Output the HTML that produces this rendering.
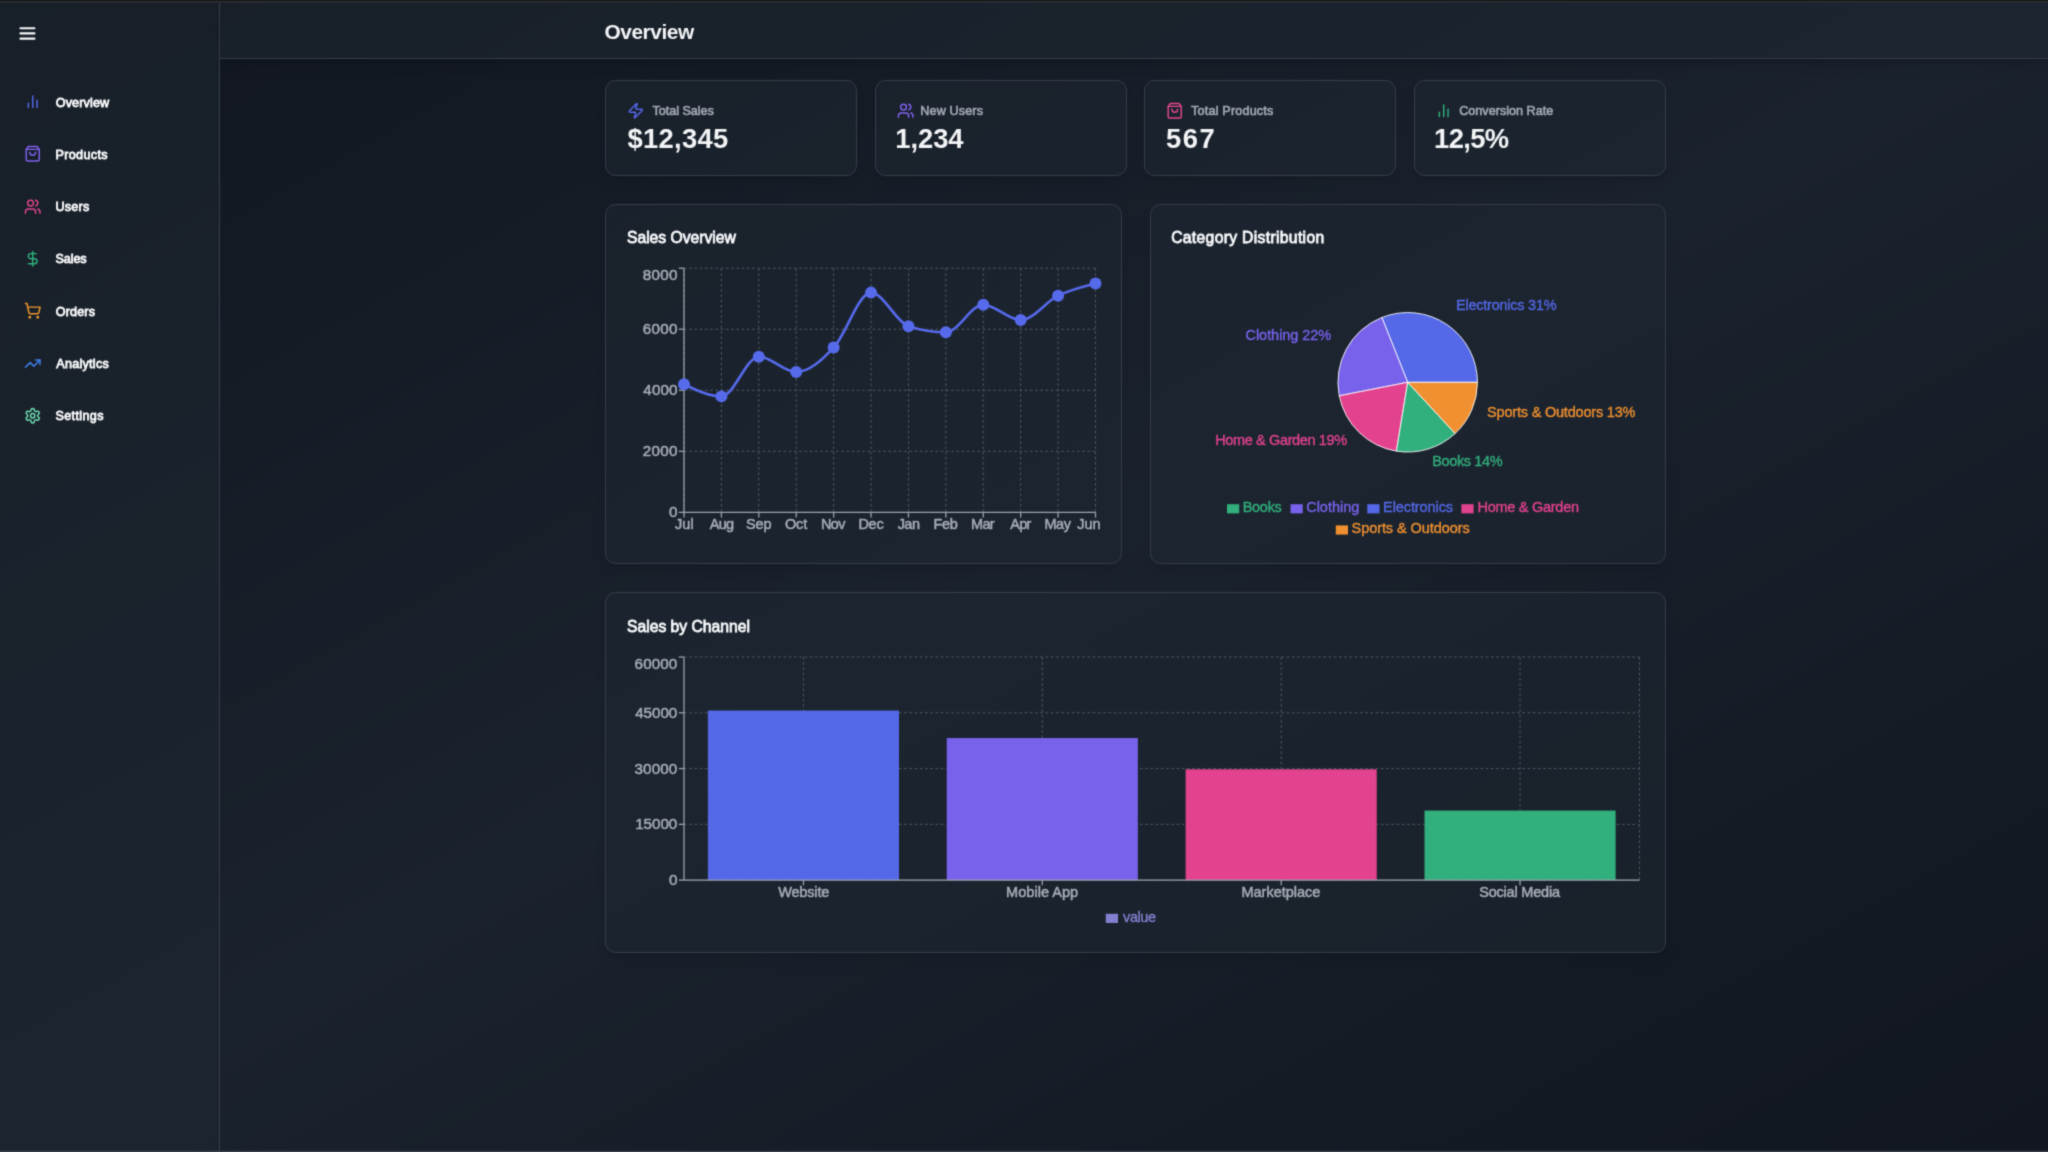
<!DOCTYPE html>
<html lang="en"><head><meta charset="utf-8"><title>Overview</title>
<style>
*{box-sizing:border-box;margin:0;padding:0}
html,body{width:2048px;height:1152px;overflow:hidden;background:#11161f;font-family:"Liberation Sans", sans-serif;}
.bg{position:absolute;left:-3.5px;top:3px;width:2051.5px;height:1149px;background:linear-gradient(to bottom right, #11161f, #1a222d 50%, #11161f);}
.topa{position:absolute;left:0;top:0;width:2048px;height:3px;background:linear-gradient(to bottom,#161616 0,#161616 1.3px,#282b30 1.3px,#282b30 3px);}
.bota{position:absolute;left:0;top:1150px;width:2048px;height:2px;background:linear-gradient(to bottom,rgba(58,66,77,.25) 0,rgba(58,66,77,.25) 1px,#3a424d 1px,#3a424d 2px);}
.sidebar{position:absolute;left:0;top:3px;width:220px;height:1149px;background:rgba(30,40,49,.5);border-right:1px solid #363d49;}
.header{position:absolute;left:220px;top:3px;width:1828px;height:56px;background:rgba(30,39,49,.5);border-bottom:1px solid #363d49;box-shadow:0 8.7px 13px -2.6px rgba(0,0,0,.12),0 3.5px 5.2px -3.5px rgba(0,0,0,.12);}
.page{position:absolute;left:0;top:0;width:2048px;height:1152px;overflow:hidden;filter:url(#soft);}
.main{position:absolute;left:0;top:0;width:2048px;height:1152px;}
.card{position:absolute;background:rgba(30,39,49,.5);border:1px solid #363d49;border-radius:10.5px;box-shadow:0 8.7px 13px -2.6px rgba(0,0,0,.08),0 3.5px 5.2px -3.5px rgba(0,0,0,.08);}
.t{position:absolute;white-space:pre;line-height:0;height:0;font-kerning:normal;}
.ic{position:absolute;overflow:visible}
.chart{position:absolute;overflow:visible}
.chart text{font-family:"Liberation Sans", sans-serif;white-space:pre}
.nav{display:block}
</style></head>
<body>
<svg width="0" height="0" style="position:absolute" aria-hidden="true"><filter id="soft" x="0" y="0" width="100%" height="100%" color-interpolation-filters="sRGB"><feConvolveMatrix order="3" kernelMatrix="1 4 1 4 16 4 1 4 1" edgeMode="duplicate" preserveAlpha="true"/></filter></svg>
<div class="page">
<div class="bg"></div>
<aside class="sidebar">
<svg class="ic" style="left:17.45px;top:20.45px" width="20.9" height="20.9" viewBox="0 0 24 24" fill="none" stroke="#f6f7f9" stroke-width="2.5" stroke-linecap="round" stroke-linejoin="round"><line x1="4" x2="20" y1="12" y2="12"/><line x1="4" x2="20" y1="6" y2="6"/><line x1="4" x2="20" y1="18" y2="18"/></svg>
<a class="nav"><svg class="ic" style="left:24.38px;top:90.18px" width="17.44" height="17.44" viewBox="0 0 24 24" fill="none" stroke="#5468e8" stroke-width="2" stroke-linecap="round" stroke-linejoin="round"><line x1="18" x2="18" y1="20" y2="10"/><line x1="12" x2="12" y1="20" y2="4"/><line x1="6" x2="6" y1="20" y2="14"/></svg>
<span class="t" style="left:55.73px;top:99.55px;font-size:12.6px;font-weight:400;color:#fafbfc;letter-spacing:0.138px;-webkit-text-stroke:0.8px #fafbfc;">Overview</span></a>
<a class="nav"><svg class="ic" style="left:24.38px;top:142.48px" width="17.44" height="17.44" viewBox="0 0 24 24" fill="none" stroke="#7f62ee" stroke-width="2" stroke-linecap="round" stroke-linejoin="round"><path d="M6 2 3 6v14a2 2 0 0 0 2 2h14a2 2 0 0 0 2-2V6l-3-4Z"/><path d="M3 6h18"/><path d="M16 10a4 4 0 0 1-8 0"/></svg>
<span class="t" style="left:55.41px;top:151.85px;font-size:12.6px;font-weight:400;color:#fafbfc;letter-spacing:0.347px;-webkit-text-stroke:0.8px #fafbfc;">Products</span></a>
<a class="nav"><svg class="ic" style="left:24.38px;top:194.78px" width="17.44" height="17.44" viewBox="0 0 24 24" fill="none" stroke="#e2468f" stroke-width="2" stroke-linecap="round" stroke-linejoin="round"><path d="M16 21v-2a4 4 0 0 0-4-4H6a4 4 0 0 0-4 4v2"/><circle cx="9" cy="7" r="4"/><path d="M22 21v-2a4 4 0 0 0-3-3.87"/><path d="M16 3.13a4 4 0 0 1 0 7.75"/></svg>
<span class="t" style="left:55.41px;top:204.15px;font-size:12.6px;font-weight:400;color:#fafbfc;letter-spacing:0.233px;-webkit-text-stroke:0.8px #fafbfc;">Users</span></a>
<a class="nav"><svg class="ic" style="left:24.38px;top:247.08px" width="17.44" height="17.44" viewBox="0 0 24 24" fill="none" stroke="#2fb07c" stroke-width="2" stroke-linecap="round" stroke-linejoin="round"><line x1="12" x2="12" y1="2" y2="22"/><path d="M17 5H9.5a3.5 3.5 0 0 0 0 7h5a3.5 3.5 0 0 1 0 7H6"/></svg>
<span class="t" style="left:55.49px;top:256.45px;font-size:12.6px;font-weight:400;color:#fafbfc;letter-spacing:-0.098px;-webkit-text-stroke:0.8px #fafbfc;">Sales</span></a>
<a class="nav"><svg class="ic" style="left:24.38px;top:299.38px" width="17.44" height="17.44" viewBox="0 0 24 24" fill="none" stroke="#f0962a" stroke-width="2" stroke-linecap="round" stroke-linejoin="round"><circle cx="8" cy="21" r="1"/><circle cx="19" cy="21" r="1"/><path d="M2.05 2.05h2l2.66 12.42a2 2 0 0 0 2 1.58h9.78a2 2 0 0 0 1.95-1.57l1.65-7.43H5.12"/></svg>
<span class="t" style="left:55.73px;top:308.75px;font-size:12.6px;font-weight:400;color:#fafbfc;letter-spacing:0.154px;-webkit-text-stroke:0.8px #fafbfc;">Orders</span></a>
<a class="nav"><svg class="ic" style="left:24.38px;top:351.68px" width="17.44" height="17.44" viewBox="0 0 24 24" fill="none" stroke="#3f82ee" stroke-width="2" stroke-linecap="round" stroke-linejoin="round"><polyline points="22 7 13.5 15.5 8.5 10.5 2 17"/><polyline points="16 7 22 7 22 13"/></svg>
<span class="t" style="left:56.25px;top:361.05px;font-size:12.6px;font-weight:400;color:#fafbfc;letter-spacing:0.264px;-webkit-text-stroke:0.8px #fafbfc;">Analytics</span></a>
<a class="nav"><svg class="ic" style="left:24.38px;top:403.98px" width="17.44" height="17.44" viewBox="0 0 24 24" fill="none" stroke="#6fe0b4" stroke-width="2" stroke-linecap="round" stroke-linejoin="round"><path d="M12.22 2h-.44a2 2 0 0 0-2 2v.18a2 2 0 0 1-1 1.73l-.43.25a2 2 0 0 1-2 0l-.15-.08a2 2 0 0 0-2.73.73l-.22.38a2 2 0 0 0 .73 2.73l.15.1a2 2 0 0 1 1 1.72v.51a2 2 0 0 1-1 1.74l-.15.09a2 2 0 0 0-.73 2.73l.22.38a2 2 0 0 0 2.73.73l.15-.08a2 2 0 0 1 2 0l.43.25a2 2 0 0 1 1 1.73V20a2 2 0 0 0 2 2h.44a2 2 0 0 0 2-2v-.18a2 2 0 0 1 1-1.73l.43-.25a2 2 0 0 1 2 0l.15.08a2 2 0 0 0 2.73-.73l.22-.39a2 2 0 0 0-.73-2.73l-.15-.08a2 2 0 0 1-1-1.74v-.5a2 2 0 0 1 1-1.74l.15-.09a2 2 0 0 0 .73-2.73l-.22-.38a2 2 0 0 0-2.73-.73l-.15.08a2 2 0 0 1-2 0l-.43-.25a2 2 0 0 1-1-1.73V4a2 2 0 0 0-2-2z"/><circle cx="12" cy="12" r="3"/></svg>
<span class="t" style="left:55.49px;top:413.35px;font-size:12.6px;font-weight:400;color:#fafbfc;letter-spacing:0.358px;-webkit-text-stroke:0.8px #fafbfc;">Settings</span></a>
</aside>
<header class="header">
<span class="t" style="left:384.52px;top:29.00px;font-size:20.9px;font-weight:700;color:#f3f4f6;letter-spacing:-0.469px;">Overview</span>
</header>
<main class="main">
<section class="card stat" style="left:605px;top:80px;width:252px;height:96px"></section>
<svg class="ic" style="left:627.30px;top:101.73px" width="17.44" height="17.44" viewBox="0 0 24 24" fill="none" stroke="#5468e8" stroke-width="2" stroke-linecap="round" stroke-linejoin="round"><path d="M4 14a1 1 0 0 1-.78-1.63l9.9-10.2a.5.5 0 0 1 .86.46l-1.92 6.02A1 1 0 0 0 13 10h7a1 1 0 0 1 .78 1.63l-9.9 10.2a.5.5 0 0 1-.86-.46l1.92-6.02A1 1 0 0 0 11 14z"/></svg>
<span class="t" style="left:652.51px;top:110.80px;font-size:12.6px;font-weight:400;color:#a2a9b4;letter-spacing:-0.021px;-webkit-text-stroke:0.6px #a2a9b4;">Total Sales</span>
<span class="t" style="left:627.60px;top:138.70px;font-size:27.4px;font-weight:700;color:#f3f4f6;letter-spacing:0.267px;">$12,345</span>
<section class="card stat" style="left:875px;top:80px;width:252px;height:96px"></section>
<svg class="ic" style="left:896.65px;top:101.73px" width="17.44" height="17.44" viewBox="0 0 24 24" fill="none" stroke="#7f62ee" stroke-width="2" stroke-linecap="round" stroke-linejoin="round"><path d="M16 21v-2a4 4 0 0 0-4-4H6a4 4 0 0 0-4 4v2"/><circle cx="9" cy="7" r="4"/><path d="M22 21v-2a4 4 0 0 0-3-3.87"/><path d="M16 3.13a4 4 0 0 1 0 7.75"/></svg>
<span class="t" style="left:920.31px;top:110.80px;font-size:12.6px;font-weight:400;color:#a2a9b4;letter-spacing:0.136px;-webkit-text-stroke:0.6px #a2a9b4;">New Users</span>
<span class="t" style="left:895.34px;top:138.70px;font-size:27.4px;font-weight:700;color:#f3f4f6;letter-spacing:-0.087px;">1,234</span>
<section class="card stat" style="left:1144px;top:80px;width:252px;height:96px"></section>
<svg class="ic" style="left:1166.00px;top:101.73px" width="17.44" height="17.44" viewBox="0 0 24 24" fill="none" stroke="#e2468f" stroke-width="2" stroke-linecap="round" stroke-linejoin="round"><path d="M6 2 3 6v14a2 2 0 0 0 2 2h14a2 2 0 0 0 2-2V6l-3-4Z"/><path d="M3 6h18"/><path d="M16 10a4 4 0 0 1-8 0"/></svg>
<span class="t" style="left:1191.11px;top:110.80px;font-size:12.6px;font-weight:400;color:#a2a9b4;letter-spacing:0.187px;-webkit-text-stroke:0.6px #a2a9b4;">Total Products</span>
<span class="t" style="left:1165.95px;top:138.70px;font-size:27.4px;font-weight:700;color:#f3f4f6;letter-spacing:1.545px;">567</span>
<section class="card stat" style="left:1414px;top:80px;width:252px;height:96px"></section>
<svg class="ic" style="left:1435.35px;top:101.73px" width="17.44" height="17.44" viewBox="0 0 24 24" fill="none" stroke="#2fb07c" stroke-width="2" stroke-linecap="round" stroke-linejoin="round"><line x1="18" x2="18" y1="20" y2="10"/><line x1="12" x2="12" y1="20" y2="4"/><line x1="6" x2="6" y1="20" y2="14"/></svg>
<span class="t" style="left:1459.18px;top:110.80px;font-size:12.6px;font-weight:400;color:#a2a9b4;letter-spacing:0.019px;-webkit-text-stroke:0.6px #a2a9b4;">Conversion Rate</span>
<span class="t" style="left:1434.04px;top:138.70px;font-size:27.4px;font-weight:700;color:#f3f4f6;letter-spacing:-0.639px;">12,5%</span>
<section class="card" style="left:605px;top:204px;width:517px;height:360px"></section>
<section class="card" style="left:1150px;top:204px;width:516px;height:360px"></section>
<section class="card" style="left:605px;top:592px;width:1061px;height:361px"></section>
<span class="t" style="left:626.99px;top:237.60px;font-size:15.7px;font-weight:400;color:#f8f9fb;letter-spacing:-0.014px;-webkit-text-stroke:0.8px #f8f9fb;">Sales Overview</span>
<span class="t" style="left:1171.14px;top:237.60px;font-size:15.7px;font-weight:400;color:#f8f9fb;letter-spacing:0.329px;-webkit-text-stroke:0.8px #f8f9fb;">Category Distribution</span>
<span class="t" style="left:626.99px;top:627.10px;font-size:15.7px;font-weight:400;color:#f8f9fb;-webkit-text-stroke:0.8px #f8f9fb;">Sales by Channel</span>
<svg class="chart" style="left:605px;top:204px" width="517" height="360" viewBox="605 204 517 360"><g stroke="#4f5763" stroke-width="1.0" stroke-dasharray="2.62 2.62" fill="none"><line x1="684.0" y1="512.35" x2="1095.5" y2="512.35"/><line x1="684.0" y1="451.31" x2="1095.5" y2="451.31"/><line x1="684.0" y1="390.27" x2="1095.5" y2="390.27"/><line x1="684.0" y1="329.24" x2="1095.5" y2="329.24"/><line x1="684.0" y1="268.20" x2="1095.5" y2="268.20"/><line x1="684.00" y1="268.2" x2="684.00" y2="512.35"/><line x1="721.41" y1="268.2" x2="721.41" y2="512.35"/><line x1="758.82" y1="268.2" x2="758.82" y2="512.35"/><line x1="796.23" y1="268.2" x2="796.23" y2="512.35"/><line x1="833.64" y1="268.2" x2="833.64" y2="512.35"/><line x1="871.05" y1="268.2" x2="871.05" y2="512.35"/><line x1="908.45" y1="268.2" x2="908.45" y2="512.35"/><line x1="945.86" y1="268.2" x2="945.86" y2="512.35"/><line x1="983.27" y1="268.2" x2="983.27" y2="512.35"/><line x1="1020.68" y1="268.2" x2="1020.68" y2="512.35"/><line x1="1058.09" y1="268.2" x2="1058.09" y2="512.35"/><line x1="1095.50" y1="268.2" x2="1095.50" y2="512.35"/></g><g stroke="#9aa1ab" stroke-width="1.3" fill="none"><line x1="684.0" y1="512.35" x2="1095.5" y2="512.35"/><line x1="684.0" y1="268.2" x2="684.0" y2="512.35"/><line x1="684.00" y1="512.35" x2="684.00" y2="517.55"/><line x1="721.41" y1="512.35" x2="721.41" y2="517.55"/><line x1="758.82" y1="512.35" x2="758.82" y2="517.55"/><line x1="796.23" y1="512.35" x2="796.23" y2="517.55"/><line x1="833.64" y1="512.35" x2="833.64" y2="517.55"/><line x1="871.05" y1="512.35" x2="871.05" y2="517.55"/><line x1="908.45" y1="512.35" x2="908.45" y2="517.55"/><line x1="945.86" y1="512.35" x2="945.86" y2="517.55"/><line x1="983.27" y1="512.35" x2="983.27" y2="517.55"/><line x1="1020.68" y1="512.35" x2="1020.68" y2="517.55"/><line x1="1058.09" y1="512.35" x2="1058.09" y2="517.55"/><line x1="1095.50" y1="512.35" x2="1095.50" y2="517.55"/><line x1="678.80" y1="512.35" x2="684.0" y2="512.35"/><line x1="678.80" y1="451.31" x2="684.0" y2="451.31"/><line x1="678.80" y1="390.27" x2="684.0" y2="390.27"/><line x1="678.80" y1="329.24" x2="684.0" y2="329.24"/><line x1="678.80" y1="268.20" x2="684.0" y2="268.20"/></g><text x="668.89" y="517.35" font-size="15.2" fill="#a6adb7" stroke="#a6adb7" stroke-width="0.5" stroke-linejoin="round">0</text><text x="642.80" y="456.31" font-size="15.2" fill="#a6adb7" letter-spacing="0.306" stroke="#a6adb7" stroke-width="0.5" stroke-linejoin="round">2000</text><text x="643.36" y="395.27" font-size="15.2" fill="#a6adb7" letter-spacing="0.119" stroke="#a6adb7" stroke-width="0.5" stroke-linejoin="round">4000</text><text x="642.78" y="334.24" font-size="15.2" fill="#a6adb7" letter-spacing="0.313" stroke="#a6adb7" stroke-width="0.5" stroke-linejoin="round">6000</text><text x="642.84" y="280.30" font-size="15.2" fill="#a6adb7" letter-spacing="0.293" stroke="#a6adb7" stroke-width="0.5" stroke-linejoin="round">8000</text><text x="675.05" y="529.00" font-size="14.5" fill="#a6adb7" letter-spacing="0.041" stroke="#a6adb7" stroke-width="0.5" stroke-linejoin="round">Jul</text><text x="709.72" y="529.00" font-size="14.5" fill="#a6adb7" letter-spacing="-0.685" stroke="#a6adb7" stroke-width="0.5" stroke-linejoin="round">Aug</text><text x="746.11" y="529.00" font-size="14.5" fill="#a6adb7" letter-spacing="-0.209" stroke="#a6adb7" stroke-width="0.5" stroke-linejoin="round">Sep</text><text x="784.90" y="529.00" font-size="14.5" fill="#a6adb7" letter-spacing="-0.115" stroke="#a6adb7" stroke-width="0.5" stroke-linejoin="round">Oct</text><text x="821.08" y="529.00" font-size="14.5" fill="#a6adb7" letter-spacing="-0.675" stroke="#a6adb7" stroke-width="0.5" stroke-linejoin="round">Nov</text><text x="858.39" y="529.00" font-size="14.5" fill="#a6adb7" letter-spacing="-0.250" stroke="#a6adb7" stroke-width="0.5" stroke-linejoin="round">Dec</text><text x="897.65" y="529.00" font-size="14.5" fill="#a6adb7" letter-spacing="-0.526" stroke="#a6adb7" stroke-width="0.5" stroke-linejoin="round">Jan</text><text x="933.61" y="529.00" font-size="14.5" fill="#a6adb7" letter-spacing="-0.408" stroke="#a6adb7" stroke-width="0.5" stroke-linejoin="round">Feb</text><text x="971.12" y="529.00" font-size="14.5" fill="#a6adb7" letter-spacing="-0.693" stroke="#a6adb7" stroke-width="0.5" stroke-linejoin="round">Mar</text><text x="1010.24" y="529.00" font-size="14.5" fill="#a6adb7" letter-spacing="-0.681" stroke="#a6adb7" stroke-width="0.5" stroke-linejoin="round">Apr</text><text x="1044.53" y="529.00" font-size="14.5" fill="#a6adb7" letter-spacing="-0.483" stroke="#a6adb7" stroke-width="0.5" stroke-linejoin="round">May</text><text x="1077.30" y="529.00" font-size="14.5" fill="#a6adb7" letter-spacing="-0.076" stroke="#a6adb7" stroke-width="0.5" stroke-linejoin="round">Jun</text><path d="M684.00,384.17C696.47,390.27,708.94,396.38,721.41,396.38C733.88,396.38,746.35,356.70,758.82,356.70C771.29,356.70,783.76,371.96,796.23,371.96C808.70,371.96,821.17,360.77,833.64,347.55C846.11,334.32,858.58,292.62,871.05,292.62C883.52,292.62,895.98,322.12,908.45,326.19C920.92,330.25,933.39,332.29,945.86,332.29C958.33,332.29,970.80,304.82,983.27,304.82C995.74,304.82,1008.21,320.08,1020.68,320.08C1033.15,320.08,1045.62,301.77,1058.09,295.67C1070.56,289.56,1083.03,286.51,1095.50,283.46" fill="none" stroke="#566aec" stroke-width="2.62"/><circle cx="684.00" cy="384.17" r="6.0" fill="#566aec"/><circle cx="721.41" cy="396.38" r="6.0" fill="#566aec"/><circle cx="758.82" cy="356.70" r="6.0" fill="#566aec"/><circle cx="796.23" cy="371.96" r="6.0" fill="#566aec"/><circle cx="833.64" cy="347.55" r="6.0" fill="#566aec"/><circle cx="871.05" cy="292.62" r="6.0" fill="#566aec"/><circle cx="908.45" cy="326.19" r="6.0" fill="#566aec"/><circle cx="945.86" cy="332.29" r="6.0" fill="#566aec"/><circle cx="983.27" cy="304.82" r="6.0" fill="#566aec"/><circle cx="1020.68" cy="320.08" r="6.0" fill="#566aec"/><circle cx="1058.09" cy="295.67" r="6.0" fill="#566aec"/><circle cx="1095.50" cy="283.46" r="6.0" fill="#566aec"/></svg>
<svg class="chart" style="left:1150px;top:204px" width="516" height="360" viewBox="1150 204 516 360"><path d="M1407.7,382.3L1477.46,382.30A69.76,69.76,0,0,0,1381.88,317.49Z" fill="#5468e8" stroke="#ffffff" stroke-width="0.87" stroke-linejoin="round"/><path d="M1407.7,382.3L1381.88,317.49A69.76,69.76,0,0,0,1339.26,395.82Z" fill="#7862eb" stroke="#ffffff" stroke-width="0.87" stroke-linejoin="round"/><path d="M1407.7,382.3L1339.26,395.82A69.76,69.76,0,0,0,1396.41,451.14Z" fill="#e2428e" stroke="#ffffff" stroke-width="0.87" stroke-linejoin="round"/><path d="M1407.7,382.3L1396.41,451.14A69.76,69.76,0,0,0,1455.12,433.46Z" fill="#31af7c" stroke="#ffffff" stroke-width="0.87" stroke-linejoin="round"/><path d="M1407.7,382.3L1455.12,433.46A69.76,69.76,0,0,0,1477.46,382.30Z" fill="#f09030" stroke="#ffffff" stroke-width="0.87" stroke-linejoin="round"/><text x="1456.03" y="309.93" font-size="14.5" fill="#5468e8" letter-spacing="-0.239" stroke="#5468e8" stroke-width="0.35" stroke-linejoin="round">Electronics 31%</text><text x="1245.52" y="340.42" font-size="14.5" fill="#7862eb" letter-spacing="-0.048" stroke="#7862eb" stroke-width="0.35" stroke-linejoin="round">Clothing 22%</text><text x="1215.29" y="444.75" font-size="14.5" fill="#e2428e" letter-spacing="-0.378" stroke="#e2428e" stroke-width="0.35" stroke-linejoin="round">Home &amp; Garden 19%</text><text x="1432.24" y="465.60" font-size="14.5" fill="#31af7c" letter-spacing="-0.375" stroke="#31af7c" stroke-width="0.35" stroke-linejoin="round">Books 14%</text><text x="1487.10" y="416.99" font-size="14.5" fill="#f09030" letter-spacing="-0.200" stroke="#f09030" stroke-width="0.35" stroke-linejoin="round">Sports &amp; Outdoors 13%</text><rect x="1227.00" y="504.20" width="12.2" height="9.16" fill="#31af7c"/><text x="1242.69" y="512.00" font-size="14.5" fill="#31af7c" letter-spacing="-0.281" stroke="#31af7c" stroke-width="0.35" stroke-linejoin="round">Books</text><rect x="1290.50" y="504.20" width="12.2" height="9.16" fill="#7862eb"/><text x="1306.17" y="512.00" font-size="14.5" fill="#7862eb" stroke="#7862eb" stroke-width="0.35" stroke-linejoin="round">Clothing</text><rect x="1367.30" y="504.20" width="12.2" height="9.16" fill="#5468e8"/><text x="1383.09" y="512.00" font-size="14.5" fill="#5468e8" letter-spacing="-0.088" stroke="#5468e8" stroke-width="0.35" stroke-linejoin="round">Electronics</text><rect x="1461.40" y="504.20" width="12.2" height="9.16" fill="#e2428e"/><text x="1477.49" y="512.00" font-size="14.5" fill="#e2428e" letter-spacing="-0.271" stroke="#e2428e" stroke-width="0.35" stroke-linejoin="round">Home &amp; Garden</text><rect x="1335.80" y="525.40" width="12.2" height="9.16" fill="#f09030"/><text x="1351.59" y="533.30" font-size="14.5" fill="#f09030" letter-spacing="-0.076" stroke="#f09030" stroke-width="0.35" stroke-linejoin="round">Sports &amp; Outdoors</text></svg>
<svg class="chart" style="left:605px;top:592px" width="1061" height="361" viewBox="605 592 1061 361"><g stroke="#4f5763" stroke-width="1.0" stroke-dasharray="2.62 2.62" fill="none"><line x1="684.0" y1="880.10" x2="1639.5" y2="880.10"/><line x1="684.0" y1="824.33" x2="1639.5" y2="824.33"/><line x1="684.0" y1="768.55" x2="1639.5" y2="768.55"/><line x1="684.0" y1="712.77" x2="1639.5" y2="712.77"/><line x1="684.0" y1="657.00" x2="1639.5" y2="657.00"/><line x1="803.44" y1="657.0" x2="803.44" y2="880.1"/><line x1="1042.31" y1="657.0" x2="1042.31" y2="880.1"/><line x1="1281.19" y1="657.0" x2="1281.19" y2="880.1"/><line x1="1520.06" y1="657.0" x2="1520.06" y2="880.1"/><line x1="1639.5" y1="657.0" x2="1639.5" y2="880.1"/></g><rect x="707.89" y="710.54" width="191.10" height="169.56" fill="#5468e8"/><rect x="946.76" y="738.06" width="191.10" height="142.04" fill="#7862eb"/><rect x="1185.64" y="769.29" width="191.10" height="110.81" fill="#e2428e"/><rect x="1424.51" y="810.57" width="191.10" height="69.53" fill="#31af7c"/><g stroke="#9aa1ab" stroke-width="1.3" fill="none"><line x1="684.0" y1="880.1" x2="1639.5" y2="880.1"/><line x1="684.0" y1="657.0" x2="684.0" y2="880.1"/><line x1="803.44" y1="880.1" x2="803.44" y2="885.30"/><line x1="1042.31" y1="880.1" x2="1042.31" y2="885.30"/><line x1="1281.19" y1="880.1" x2="1281.19" y2="885.30"/><line x1="1520.06" y1="880.1" x2="1520.06" y2="885.30"/><line x1="678.80" y1="880.10" x2="684.0" y2="880.10"/><line x1="678.80" y1="824.33" x2="684.0" y2="824.33"/><line x1="678.80" y1="768.55" x2="684.0" y2="768.55"/><line x1="678.80" y1="712.77" x2="684.0" y2="712.77"/><line x1="678.80" y1="657.00" x2="684.0" y2="657.00"/></g><text x="668.89" y="885.10" font-size="15.2" fill="#a6adb7" stroke="#a6adb7" stroke-width="0.5" stroke-linejoin="round">0</text><text x="635.13" y="829.33" font-size="15.2" fill="#a6adb7" letter-spacing="-0.014" stroke="#a6adb7" stroke-width="0.5" stroke-linejoin="round">15000</text><text x="634.56" y="773.55" font-size="15.2" fill="#a6adb7" letter-spacing="0.130" stroke="#a6adb7" stroke-width="0.5" stroke-linejoin="round">30000</text><text x="635.16" y="717.77" font-size="15.2" fill="#a6adb7" letter-spacing="-0.022" stroke="#a6adb7" stroke-width="0.5" stroke-linejoin="round">45000</text><text x="634.58" y="668.80" font-size="15.2" fill="#a6adb7" letter-spacing="0.124" stroke="#a6adb7" stroke-width="0.5" stroke-linejoin="round">60000</text><text x="778.17" y="896.80" font-size="14.5" fill="#a6adb7" letter-spacing="-0.157" stroke="#a6adb7" stroke-width="0.5" stroke-linejoin="round">Website</text><text x="1006.06" y="896.80" font-size="14.5" fill="#a6adb7" letter-spacing="0.042" stroke="#a6adb7" stroke-width="0.5" stroke-linejoin="round">Mobile App</text><text x="1241.43" y="896.80" font-size="14.5" fill="#a6adb7" stroke="#a6adb7" stroke-width="0.5" stroke-linejoin="round">Marketplace</text><text x="1479.20" y="896.80" font-size="14.5" fill="#a6adb7" letter-spacing="-0.201" stroke="#a6adb7" stroke-width="0.5" stroke-linejoin="round">Social Media</text><rect x="1105.8" y="913.8" width="12.2" height="9.16" fill="#8280d0"/><text x="1123.07" y="921.80" font-size="14.5" fill="#8280d0" letter-spacing="-0.409" stroke="#8280d0" stroke-width="0.35" stroke-linejoin="round">value</text></svg>
</main>
<div class="topa"></div>
<div class="bota"></div>
</div>
</body></html>
